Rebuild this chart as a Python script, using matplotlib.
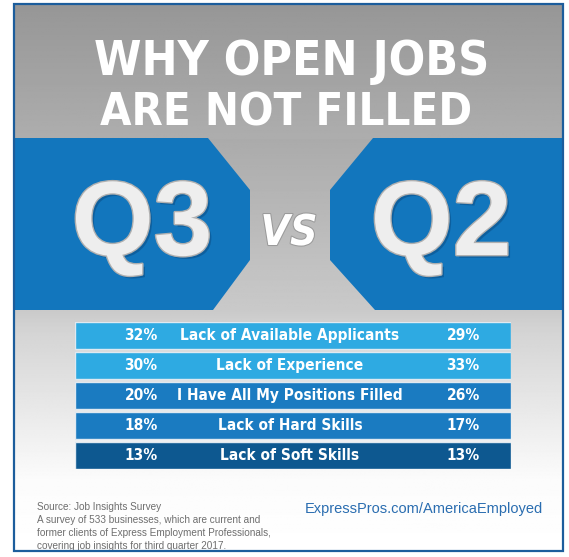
import os
import numpy as np
import matplotlib
matplotlib.use('Agg')
import matplotlib.pyplot as plt
import matplotlib.patheffects as pe
from matplotlib import font_manager as fm
from matplotlib.patches import Polygon, Rectangle

# data
reasons = ['Lack of Available Applicants', 'Lack of Experience',
           'I Have All My Positions Filled', 'Lack of Hard Skills',
           'Lack of Soft Skills']
q3 = [32, 30, 20, 18, 13]
q2 = [29, 33, 26, 17, 13]
row_colors = ['#2eaae2', '#2eaae2', '#1a7bc1', '#1a7bc1', '#0d5890']

title_lines = ['WHY OPEN JOBS', 'ARE NOT FILLED']
source_lines = ['Source: Job Insights Survey',
                'A survey of 533 businesses, which are current and',
                'former clients of Express Employment Professionals,',
                'covering job insights for third quarter 2017.']
url = 'ExpressPros.com/AmericaEmployed'

W, H = 569, 557
blue = '#1276bd'


def narrow_font(bold=True, italic=False):
    # look for any installed condensed / narrow face
    best = None
    for f in fm.fontManager.ttflist:
        fn = os.path.basename(f.fname).lower()
        name = f.name.lower()
        cond = ('condensed' in fn or 'narrow' in fn or 'condensed' in name
                or 'narrow' in name or f.stretch in ('condensed', 'semi-condensed'))
        if not cond or 'extra' in fn or 'ultra' in fn or 'semi' in fn:
            continue
        w = f.weight if isinstance(f.weight, int) else (700 if 'bold' in str(f.weight) else 400)
        is_bold = w >= 600 or 'bold' in fn
        is_it = f.style != 'normal' or 'italic' in fn or 'oblique' in fn
        if 'black' in fn or 'light' in fn or 'thin' in fn or 'medium' in fn:
            continue
        score = (is_bold == bold) * 2 + (is_it == italic) * 3
        if best is None or score > best[0]:
            best = (score, f.fname)
    if best is None:
        return fm.FontProperties(family='DejaVu Sans',
                                 weight='bold' if bold else 'normal',
                                 style='italic' if italic else 'normal')
    return fm.FontProperties(fname=best[1])


fp_bold = narrow_font(True)
fp_it = narrow_font(True, True)

fig = plt.figure(figsize=(W / 100, H / 100), dpi=100)
ax = fig.add_axes([0, 0, 1, 1])
ax.set_xlim(0, W)
ax.set_ylim(H, 0)
ax.axis('off')
renderer = fig.canvas.get_renderer()


def fit(t, width):
    w = t.get_window_extent(renderer).width
    t.set_fontsize(t.get_fontsize() * width / w)


# frame area + background gradient
x0, x1, y0, y1 = 14, 563, 4, 551
ys = np.linspace(y0, y1, 400)
shade = np.interp(ys, [y0, 138, 139, 310, 330, 480, y1],
                  [0.59, 0.68, 0.67, 0.79, 0.83, 0.985, 1.0])
grad = np.repeat(shade[:, None], 2, axis=1)
ax.imshow(grad, cmap='gray', vmin=0, vmax=1, extent=[x0, x1, y1, y0],
          aspect='auto', zorder=0)

# blue band with hourglass cut-out
left_poly = [(x0, 138), (208, 138), (250, 190), (250, 260), (213, 310), (x0, 310)]
right_poly = [(x1, 138), (373, 138), (330, 190), (330, 260), (375, 310), (x1, 310)]
for p in (left_poly, right_poly):
    ax.add_patch(Polygon(p, closed=True, fc=blue, ec='none', zorder=1))

# frame border
ax.add_patch(Rectangle((x0, y0), x1 - x0, y1 - y0, fc='none', ec='#1c5d9c',
                       lw=1.6, zorder=5))

# title
for (cx, base, width), line in zip([(292, 75, 395), (286, 126, 372)], title_lines):
    t = ax.text(cx, base, line, ha='center', va='baseline', color='white',
                fontproperties=fp_bold, zorder=3)
    t.set_fontsize(50)
    fit(t, width)

# Q3 vs Q2
silver = [pe.SimplePatchShadow(offset=(2, -2), shadow_rgbFace='#0a4a80', alpha=0.5),
          pe.Stroke(linewidth=2, foreground='#b0b0b0'), pe.Normal()]
for x, lab in [(142, 'Q3'), (441, 'Q2')]:
    ax.text(x, 255, lab, ha='center', va='baseline', color='#eeeeee',
            fontsize=76, fontweight='bold',
            family=['Liberation Sans', 'DejaVu Sans'],
            path_effects=silver, zorder=3)
vs = ax.text(289, 245, 'VS', ha='center', va='baseline', color='white',
             fontproperties=fp_it,
             path_effects=[pe.Stroke(linewidth=1.5, foreground='#9a9a9a'), pe.Normal()],
             zorder=3)
vs.set_fontsize(40)
fit(vs, 57)

# footer
for i, line in enumerate(source_lines):
    ax.text(37, 507 + i * 13, line, ha='left', va='center', color='#6e6e6e',
            fontsize=7.2, family=['Liberation Sans', 'DejaVu Sans'], zorder=3)
ax.text(543, 509, url, ha='right', va='center', color='#2a6db0',
        fontsize=10.5, family=['Liberation Sans', 'DejaVu Sans'], zorder=3)

# table
tx0, tx1, ty0, ty1 = 75, 511, 322, 469
tab = fig.add_axes([tx0 / W, 1 - ty1 / H, (tx1 - tx0) / W, (ty1 - ty0) / H])
tab.patch.set_alpha(0)
idx = np.arange(len(reasons))
tab.barh(idx, [1] * len(reasons), left=0, height=0.9, color=row_colors,
         edgecolor='#dfe9f1', linewidth=1.0)
tab.set_xlim(0, 1)
tab.set_ylim(len(reasons) - 0.55, -0.45)
tab.axis('off')

labels = []
for i, (r, a, b) in enumerate(zip(reasons, q3, q2)):
    kw = dict(va='center', color='white', fontproperties=fp_bold)
    labels.append(tab.text((141 - tx0) / (tx1 - tx0), i, f'{a}%', ha='center', **kw))
    labels.append(tab.text((290 - tx0) / (tx1 - tx0), i, r, ha='center', **kw))
    labels.append(tab.text((463 - tx0) / (tx1 - tx0), i, f'{b}%', ha='center', **kw))
for t in labels:
    t.set_fontsize(15)
longest = labels[3 * reasons.index('I Have All My Positions Filled') + 1]
fit(longest, 226)
for t in labels:
    t.set_fontsize(longest.get_fontsize())

fig.savefig('out.png', dpi=100, facecolor='white')
